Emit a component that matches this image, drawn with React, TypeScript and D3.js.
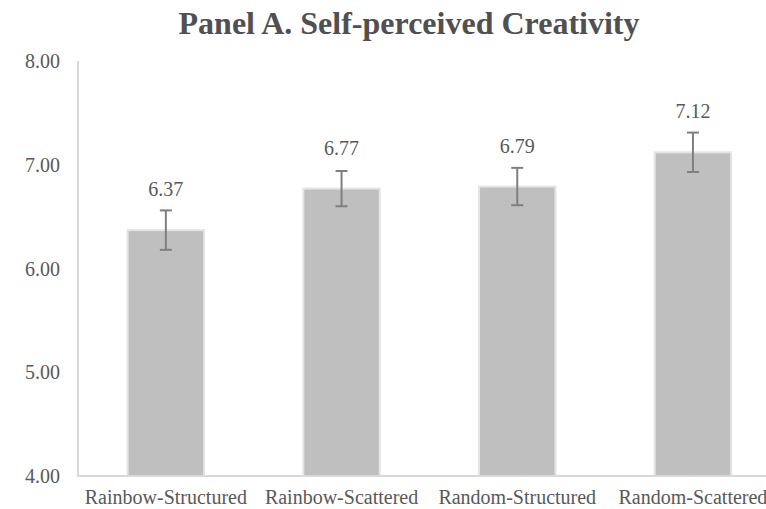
import React from "react";
import * as d3 from "d3";

const categories = ["Rainbow-Structured", "Rainbow-Scattered", "Random-Structured", "Random-Scattered"];
const means = [6.37, 6.77, 6.79, 7.12];
const errors = [0.19, 0.17, 0.18, 0.19];
const yTicks = [4, 5, 6, 7, 8];
const title = "Panel A. Self-perceived Creativity";

const W = 766;
const H = 509;
const left = 78;
const step = 175.7;
const top = 61;
const bottom = 476;

export default function App() {
  const x = d3
    .scaleBand<string>()
    .domain(categories)
    .range([left, left + step * categories.length])
    .paddingInner(0.565)
    .paddingOuter(0.2825);
  const y = d3.scaleLinear().domain([4, 8]).range([bottom, top]);
  const font = "'Liberation Serif', 'Times New Roman', serif";

  return (
    <svg
      width={W}
      height={H}
      style={{ position: "absolute", left: 0, top: 0, background: "#fff" }}
      fontFamily={font}
    >
      <text x={409} y={34} textAnchor="middle" fontSize={32} fontWeight="bold" fill="#505050">
        {title}
      </text>

      {yTicks.map((t) => (
        <text key={t} x={60} y={y(t)} dy="0.35em" textAnchor="end" fontSize={20} fill="#595959">
          {t.toFixed(2)}
        </text>
      ))}

      {categories.map((c, i) => {
        const bx = x(c)!;
        const bw = x.bandwidth();
        const cx = bx + bw / 2;
        const hi = y(means[i] + errors[i]);
        const lo = y(means[i] - errors[i]);
        return (
          <g key={c}>
            <rect
              x={bx}
              y={y(means[i])}
              width={bw}
              height={bottom - y(means[i])}
              fill="#bfbfbf"
              stroke="#e4e4e4"
              strokeWidth={2}
            />
            <line x1={cx} x2={cx} y1={hi} y2={lo} stroke="#7f7f7f" strokeWidth={2} />
            <line x1={cx - 6} x2={cx + 6} y1={hi} y2={hi} stroke="#7f7f7f" strokeWidth={2} />
            <line x1={cx - 6} x2={cx + 6} y1={lo} y2={lo} stroke="#7f7f7f" strokeWidth={2} />
            <text x={cx} y={y(means[i]) - 41} dy="0.35em" textAnchor="middle" fontSize={20} fill="#595959">
              {means[i].toFixed(2)}
            </text>
            <text x={cx} y={504} textAnchor="middle" fontSize={20} fill="#595959">
              {c}
            </text>
          </g>
        );
      })}

      <line x1={left} x2={left} y1={top} y2={bottom} stroke="#d9d9d9" strokeWidth={2} />
      <line x1={left - 1} x2={W} y1={bottom} y2={bottom} stroke="#d9d9d9" strokeWidth={2} />
    </svg>
  );
}
